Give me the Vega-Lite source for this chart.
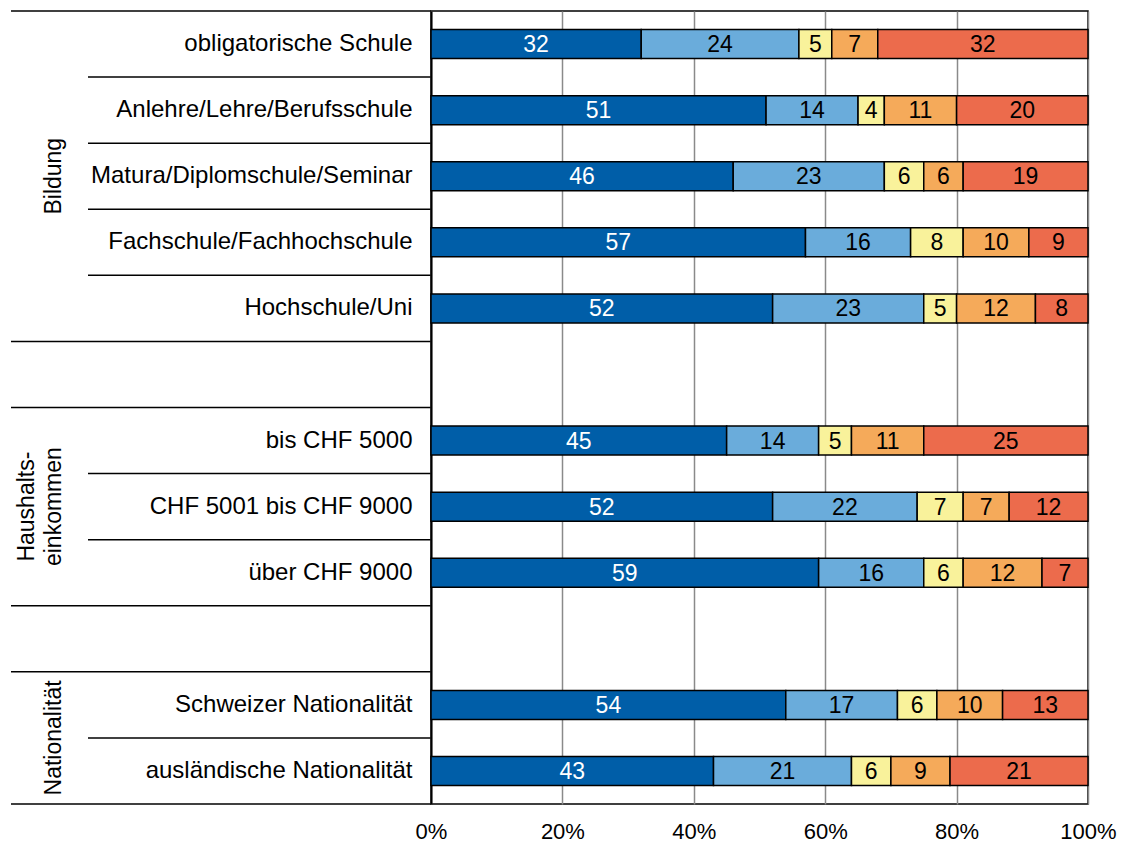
{
  "$schema": "https://vega.github.io/schema/vega-lite/v6.json",
  "padding": {"left": 10, "top": 10, "right": 5, "bottom": 5},
  "background": "white",
  "config": {
    "font": "Liberation Sans",
    "view": {"stroke": null},
    "concat": {"spacing": 0}
  },
  "bounds": "flush",
  "spacing": 0,
  "datasets": {
    "rows": [
      {"row": "obligatorische Schule", "start": true},
      {"row": "Anlehre/Lehre/Berufsschule", "start": false},
      {"row": "Matura/Diplomschule/Seminar", "start": false},
      {"row": "Fachschule/Fachhochschule", "start": false},
      {"row": "Hochschule/Uni", "start": false},
      {"row": "gap1", "start": true},
      {"row": "bis CHF 5000", "start": true},
      {"row": "CHF 5001 bis CHF 9000", "start": false},
      {"row": "über CHF 9000", "start": false},
      {"row": "gap2", "start": true},
      {"row": "Schweizer Nationalität", "start": true},
      {"row": "ausländische Nationalität", "start": false}
    ],
    "groups": [
      {"col": "Gruppe", "label": "Bildung", "anchor": "Matura/Diplomschule/Seminar", "pos": "mid"},
      {"col": "Gruppe", "label": "Haushalts-\neinkommen", "anchor": "CHF 5001 bis CHF 9000", "pos": "multi"},
      {"col": "Gruppe", "label": "Nationalität", "anchor": "ausländische Nationalität", "pos": "edge"}
    ],
    "segs": [
      {"row": "obligatorische Schule", "k": 1, "v": 32},
      {"row": "obligatorische Schule", "k": 2, "v": 24},
      {"row": "obligatorische Schule", "k": 3, "v": 5},
      {"row": "obligatorische Schule", "k": 4, "v": 7},
      {"row": "obligatorische Schule", "k": 5, "v": 32},
      {"row": "Anlehre/Lehre/Berufsschule", "k": 1, "v": 51},
      {"row": "Anlehre/Lehre/Berufsschule", "k": 2, "v": 14},
      {"row": "Anlehre/Lehre/Berufsschule", "k": 3, "v": 4},
      {"row": "Anlehre/Lehre/Berufsschule", "k": 4, "v": 11},
      {"row": "Anlehre/Lehre/Berufsschule", "k": 5, "v": 20},
      {"row": "Matura/Diplomschule/Seminar", "k": 1, "v": 46},
      {"row": "Matura/Diplomschule/Seminar", "k": 2, "v": 23},
      {"row": "Matura/Diplomschule/Seminar", "k": 3, "v": 6},
      {"row": "Matura/Diplomschule/Seminar", "k": 4, "v": 6},
      {"row": "Matura/Diplomschule/Seminar", "k": 5, "v": 19},
      {"row": "Fachschule/Fachhochschule", "k": 1, "v": 57},
      {"row": "Fachschule/Fachhochschule", "k": 2, "v": 16},
      {"row": "Fachschule/Fachhochschule", "k": 3, "v": 8},
      {"row": "Fachschule/Fachhochschule", "k": 4, "v": 10},
      {"row": "Fachschule/Fachhochschule", "k": 5, "v": 9},
      {"row": "Hochschule/Uni", "k": 1, "v": 52},
      {"row": "Hochschule/Uni", "k": 2, "v": 23},
      {"row": "Hochschule/Uni", "k": 3, "v": 5},
      {"row": "Hochschule/Uni", "k": 4, "v": 12},
      {"row": "Hochschule/Uni", "k": 5, "v": 8},
      {"row": "bis CHF 5000", "k": 1, "v": 45},
      {"row": "bis CHF 5000", "k": 2, "v": 14},
      {"row": "bis CHF 5000", "k": 3, "v": 5},
      {"row": "bis CHF 5000", "k": 4, "v": 11},
      {"row": "bis CHF 5000", "k": 5, "v": 25},
      {"row": "CHF 5001 bis CHF 9000", "k": 1, "v": 52},
      {"row": "CHF 5001 bis CHF 9000", "k": 2, "v": 22},
      {"row": "CHF 5001 bis CHF 9000", "k": 3, "v": 7},
      {"row": "CHF 5001 bis CHF 9000", "k": 4, "v": 7},
      {"row": "CHF 5001 bis CHF 9000", "k": 5, "v": 12},
      {"row": "über CHF 9000", "k": 1, "v": 59},
      {"row": "über CHF 9000", "k": 2, "v": 16},
      {"row": "über CHF 9000", "k": 3, "v": 6},
      {"row": "über CHF 9000", "k": 4, "v": 12},
      {"row": "über CHF 9000", "k": 5, "v": 7},
      {"row": "Schweizer Nationalität", "k": 1, "v": 54},
      {"row": "Schweizer Nationalität", "k": 2, "v": 17},
      {"row": "Schweizer Nationalität", "k": 3, "v": 6},
      {"row": "Schweizer Nationalität", "k": 4, "v": 10},
      {"row": "Schweizer Nationalität", "k": 5, "v": 13},
      {"row": "ausländische Nationalität", "k": 1, "v": 43},
      {"row": "ausländische Nationalität", "k": 2, "v": 21},
      {"row": "ausländische Nationalität", "k": 3, "v": 6},
      {"row": "ausländische Nationalität", "k": 4, "v": 9},
      {"row": "ausländische Nationalität", "k": 5, "v": 21}
    ]
  },
  "hconcat": [
    {
      "width": 77,
      "height": 793,
      "layer": [
        {
          "data": {"name": "rows"},
          "transform": [{"filter": "datum.start"}],
          "mark": {"type": "rule", "color": "black", "strokeWidth": 1.5},
          "encoding": {
            "y": {"field": "row", "type": "nominal", "bandPosition": 0, "axis": null,
              "scale": {"type": "band", "paddingInner": 0, "paddingOuter": 0,
                "domain": ["obligatorische Schule", "Anlehre/Lehre/Berufsschule", "Matura/Diplomschule/Seminar", "Fachschule/Fachhochschule", "Hochschule/Uni", "gap1", "bis CHF 5000", "CHF 5001 bis CHF 9000", "über CHF 9000", "gap2", "Schweizer Nationalität", "ausländische Nationalität"]}}
          }
        },
        {
          "data": {"name": "rows"},
          "transform": [{"filter": "datum.row == 'ausländische Nationalität'"}],
          "mark": {"type": "rule", "color": "black", "strokeWidth": 1.5},
          "encoding": {
            "y": {"field": "row", "type": "nominal", "bandPosition": 1, "axis": null}
          }
        },
        {
          "data": {"name": "groups"},
          "transform": [{"filter": "datum.pos == 'mid'"}],
          "mark": {"type": "text", "angle": 270, "fontSize": 23, "align": "center", "baseline": "middle", "color": "black", "dy": 4},
          "encoding": {
            "y": {"field": "anchor", "type": "nominal", "axis": null},
            "x": {"field": "col", "type": "nominal", "axis": null, "scale": {"paddingInner": 0, "paddingOuter": 0}},
            "text": {"field": "label"}
          }
        },
        {
          "data": {"name": "groups"},
          "transform": [{"filter": "datum.pos == 'multi'"}],
          "mark": {"type": "text", "angle": 270, "fontSize": 23, "align": "center", "baseline": "middle", "lineBreak": "\n", "lineHeight": 27, "color": "black", "dy": -23},
          "encoding": {
            "y": {"field": "anchor", "type": "nominal", "axis": null},
            "x": {"field": "col", "type": "nominal", "axis": null, "scale": {"paddingInner": 0, "paddingOuter": 0}},
            "text": {"field": "label"}
          }
        },
        {
          "data": {"name": "groups"},
          "transform": [{"filter": "datum.pos == 'edge'"}],
          "mark": {"type": "text", "angle": 270, "fontSize": 23, "align": "center", "baseline": "middle", "color": "black", "dy": 4},
          "encoding": {
            "y": {"field": "anchor", "type": "nominal", "bandPosition": 0, "axis": null},
            "x": {"field": "col", "type": "nominal", "axis": null, "scale": {"paddingInner": 0, "paddingOuter": 0}},
            "text": {"field": "label"}
          }
        }
      ]
    },
    {
      "width": 343,
      "height": 793,
      "layer": [
        {
          "data": {"name": "rows"},
          "mark": {"type": "rule", "color": "black", "strokeWidth": 1.5},
          "encoding": {
            "y": {"field": "row", "type": "nominal", "bandPosition": 0, "axis": null,
              "scale": {"type": "band", "paddingInner": 0, "paddingOuter": 0,
                "domain": ["obligatorische Schule", "Anlehre/Lehre/Berufsschule", "Matura/Diplomschule/Seminar", "Fachschule/Fachhochschule", "Hochschule/Uni", "gap1", "bis CHF 5000", "CHF 5001 bis CHF 9000", "über CHF 9000", "gap2", "Schweizer Nationalität", "ausländische Nationalität"]}}
          }
        },
        {
          "data": {"name": "rows"},
          "transform": [{"filter": "datum.row == 'ausländische Nationalität'"}],
          "mark": {"type": "rule", "color": "black", "strokeWidth": 1.5},
          "encoding": {
            "y": {"field": "row", "type": "nominal", "bandPosition": 1, "axis": null}
          }
        }
      ]
    },
    {
      "width": 657,
      "height": 793,
      "view": {"stroke": "black", "strokeWidth": 1.5},
      "data": {"name": "segs"},
      "layer": [
        {
          "mark": {"type": "bar", "height": 29, "stroke": "black", "strokeWidth": 1.5},
          "encoding": {
            "y": {"field": "row", "type": "nominal",
              "scale": {"type": "band", "paddingInner": 0, "paddingOuter": 0,
                "domain": ["obligatorische Schule", "Anlehre/Lehre/Berufsschule", "Matura/Diplomschule/Seminar", "Fachschule/Fachhochschule", "Hochschule/Uni", "gap1", "bis CHF 5000", "CHF 5001 bis CHF 9000", "über CHF 9000", "gap2", "Schweizer Nationalität", "ausländische Nationalität"]},
              "axis": {"title": null, "ticks": false, "domain": true, "domainColor": "black", "domainWidth": 2, "labelFontSize": 24, "labelColor": "black", "labelPadding": 19, "labelLimit": 400,
                "labelExpr": "indexof(datum.value, 'gap') == 0 ? '' : datum.value"}},
            "x": {"field": "v", "type": "quantitative", "stack": "zero",
              "scale": {"domain": [0, 100], "nice": false},
              "axis": {"title": null, "values": [0, 20, 40, 60, 80, 100], "labelExpr": "datum.value + '%'", "labelFlush": false, "ticks": false, "domain": false, "grid": true, "gridColor": "#8a8a8a", "gridWidth": 1.5, "labelFontSize": 22, "labelColor": "black", "labelPadding": 17}},
            "color": {"field": "k", "type": "nominal", "legend": null,
              "scale": {"domain": [1, 2, 3, 4, 5], "range": ["#005ea8", "#6aacdb", "#f9f29b", "#f5aa5a", "#ec6b4c"]}},
            "order": {"field": "k", "type": "quantitative"}
          }
        },
        {
          "mark": {"type": "text", "fontSize": 23, "align": "center", "baseline": "middle", "dy": 1},
          "encoding": {
            "y": {"field": "row", "type": "nominal"},
            "x": {"field": "v", "type": "quantitative", "stack": "zero", "bandPosition": 0.5},
            "detail": {"field": "k", "type": "nominal"},
            "order": {"field": "k", "type": "quantitative"},
            "text": {"field": "v", "type": "quantitative"},
            "color": {"condition": {"test": "datum.k == 1", "value": "white"}, "value": "black"}
          }
        }
      ]
    }
  ]
}
